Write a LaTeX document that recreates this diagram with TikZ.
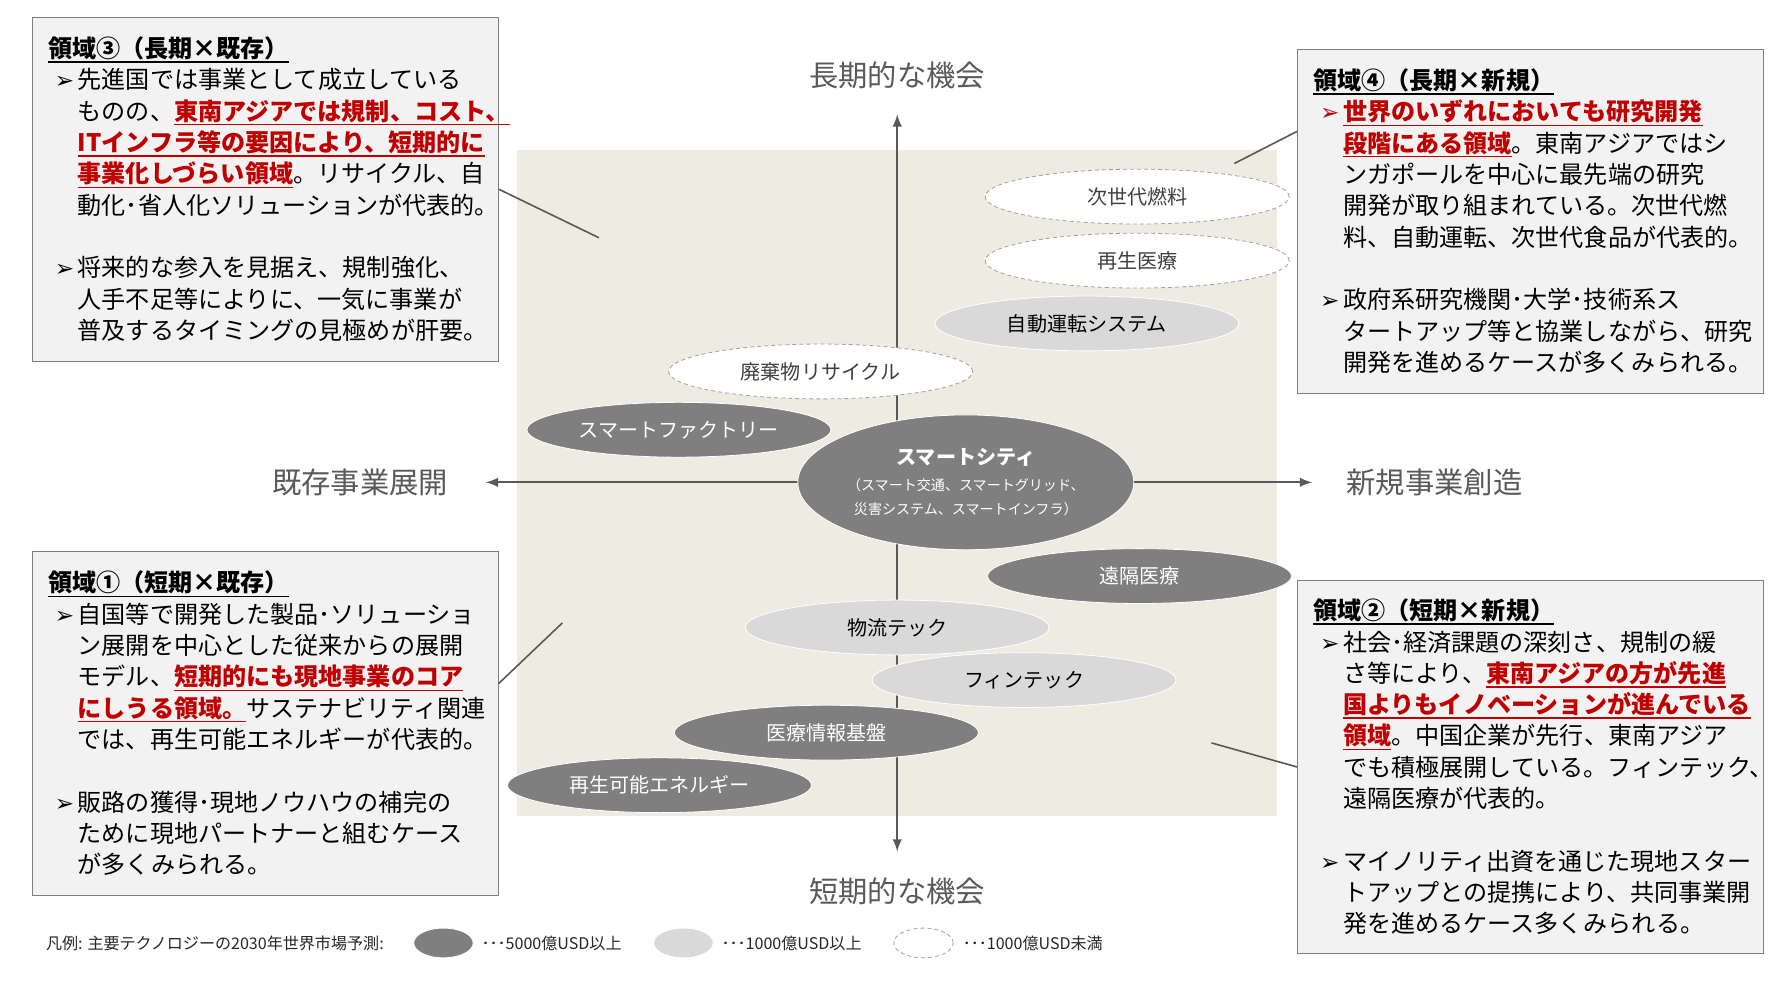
\documentclass[tikz,border=0pt]{standalone}
\usepackage{fontspec}
\setmainfont{Noto Sans CJK JP}
\newfontfamily\arrowfont{DejaVu Sans}
\usetikzlibrary{shapes.geometric}
\definecolor{beige}{HTML}{EEECE1}
\definecolor{boxgray}{HTML}{F2F2F2}
\definecolor{linegray}{HTML}{595959}
\definecolor{accent}{HTML}{C00000}
\definecolor{darktech}{HTML}{7F7F7F}
\definecolor{lighttech}{HTML}{D9D9D9}
\definecolor{dashgray}{HTML}{A0A0A0}
\newcommand\ulbox[1]{\setbox0=\hbox{#1}\rlap{\rule[-2.6pt]{\wd0}{0.75pt}}\box0}
\newcommand\redmark[1]{{\color{accent}\bfseries\ulbox{#1}}}
\newcommand\areatitle[1]{{\bfseries\ulbox{#1}}}
\newcommand\bul{\hspace*{0.12cm}\makebox[0.4cm][l]{\arrowfont\fontsize{11.5}{12}\selectfont ➢}}
\newcommand\contline{\hspace*{0.52cm}}

\begin{document}
\begin{tikzpicture}[x=0.02cm,y=-0.02cm,
    areabox/.style={draw=darktech,fill=boxgray,text width=7.6cm,inner xsep=0.28cm,
      minimum height=6.02cm,align=left,font=\fontsize{12}{15.6}\selectfont},
    tech/.style={ellipse,minimum width=5.32cm,minimum height=0.96cm,inner sep=0pt,
      font=\fontsize{10}{12}\selectfont},
    bigtech/.style={tech,fill=darktech,draw=white,text=white},
    midtech/.style={tech,fill=lighttech,draw=white,text=black},
    smalltech/.style={tech,fill=white,draw=dashgray,dash pattern=on 2pt off 1.5pt,text=black!75},
    axislabel/.style={text=linegray,font=\fontsize{14.6}{16}\selectfont},
    leader/.style={linegray,line width=0.8pt},
    legend/.style={anchor=west,inner sep=0pt,text=black!85,font=\fontsize{8}{10}\selectfont}]
  \useasboundingbox (0,0) rectangle (1567,870.6);
  \fill[beige] (452,131) rectangle (1117,714);

  % axes
  \coordinate (longterm) at (785,100);
  \coordinate (shortterm) at (785,745);
  \coordinate (existing) at (425,422);
  \coordinate (newbiz) at (1148,422);
  \draw[linegray,line width=1.1pt,latex-latex] (shortterm) -- (longterm);
  \draw[linegray,line width=1.1pt,latex-latex] (existing) -- (newbiz);
  \node[axislabel] (longlabel) at (785,66) {長期的な機会};
  \node[axislabel] (shortlabel) at (785,780) {短期的な機会};
  \node[axislabel] (existlabel) at (315,422) {既存事業展開};
  \node[axislabel] (newlabel) at (1255,422) {新規事業創造};

  \node[smalltech] (fuel) at (995,172) {次世代燃料};
  \node[smalltech] (regen) at (995,228) {再生医療};
  \node[midtech] (autodrive) at (951,283) {自動運転システム};
  \node[smalltech] (recycle) at (718,325) {廃棄物リサイクル};
  \node[bigtech] (factory) at (594,376) {スマートファクトリー};
  \node[bigtech,minimum width=5.3cm,minimum height=2.36cm,align=center] (city) at (845,422)
    {\fontsize{10}{12}\selectfont\bfseries スマートシティ\\[1pt]
     \fontsize{7}{9.5}\selectfont （スマート交通、スマートグリッド、\\
     \fontsize{7}{9.5}\selectfont 災害システム、スマートインフラ）};
  \node[bigtech] (telemed) at (997,504) {遠隔医療};
  \node[midtech] (logistics) at (785,549) {物流テック};
  \node[midtech] (fintech) at (896,595) {フィンテック};
  \node[bigtech] (medinfo) at (723,641) {医療情報基盤};
  \node[bigtech] (renew) at (577,687) {再生可能エネルギー};

  \node[areabox] (area3) at (232,165.5) {\areatitle{領域③（長期×既存）}\\
    \bul 先進国では事業として成立している\\
    \contline ものの、\redmark{東南アジアでは規制、コスト、}\\
    \contline \redmark{ITインフラ等の要因により、短期的に}\\
    \contline \redmark{事業化しづらい領域}。リサイクル、自\\
    \contline 動化･省人化ソリューションが代表的。\\ \mbox{}\\
    \bul 将来的な参入を見据え、規制強化、\\
    \contline 人手不足等によりに、一気に事業が\\
    \contline 普及するタイミングの見極めが肝要。};
  \node[areabox] (area4) at (1339,193.5) {\areatitle{領域④（長期×新規）}\\
    {\color{accent}\bul}\redmark{世界のいずれにおいても研究開発}\\
    \contline \redmark{段階にある領域}。東南アジアではシ\\
    \contline ンガポールを中心に最先端の研究\\
    \contline 開発が取り組まれている。次世代燃\\
    \contline 料、自動運転、次世代食品が代表的。\\ \mbox{}\\
    \bul 政府系研究機関･大学･技術系ス\\
    \contline タートアップ等と協業しながら、研究\\
    \contline 開発を進めるケースが多くみられる。};
  \node[areabox] (area1) at (232,633) {\areatitle{領域①（短期×既存）}\\
    \bul 自国等で開発した製品･ソリューショ\\
    \contline ン展開を中心とした従来からの展開\\
    \contline モデル、\redmark{短期的にも現地事業のコア}\\
    \contline \redmark{にしうる領域。}サステナビリティ関連\\
    \contline では、再生可能エネルギーが代表的。\\ \mbox{}\\
    \bul 販路の獲得･現地ノウハウの補完の\\
    \contline ために現地パートナーと組むケース\\
    \contline が多くみられる。};
  \node[areabox,minimum height=6.52cm] (area2) at (1339,671) {\areatitle{領域②（短期×新規）}\\
    \bul 社会･経済課題の深刻さ、規制の緩\\
    \contline さ等により、\redmark{東南アジアの方が先進}\\
    \contline \redmark{国よりもイノベーションが進んでいる}\\
    \contline \redmark{領域}。中国企業が先行、東南アジア\\
    \contline でも積極展開している。フィンテック、\\
    \contline 遠隔医療が代表的。\\ \mbox{}\\
    \bul マイノリティ出資を通じた現地スター\\
    \contline トアップとの提携により、共同事業開\\
    \contline 発を進めるケース多くみられる。};

  \coordinate (area3tip) at (524,208);
  \coordinate (area4tip) at (1080,143);
  \coordinate (area1tip) at (492,545);
  \coordinate (area2tip) at (1060,650);
  \draw[leader] (area3.east) -- (area3tip);
  \draw[leader] ([yshift=1.57cm]area4.west) -- (area4tip);
  \draw[leader] ([yshift=0.7cm]area1.east) -- (area1tip);
  \draw[leader] (area2.west) -- (area2tip);

  \node[legend] (legendtitle) at (40,825) {凡例: 主要テクノロジーの2030年世界市場予測:};
  \node[bigtech,minimum width=1.04cm,minimum height=0.52cm] (keybig) at (388,825) {};
  \node[legend] (keybigtext) at (421,825) {･･･5000億USD以上};
  \node[midtech,minimum width=1.04cm,minimum height=0.52cm] (keymid) at (598,825) {};
  \node[legend] (keymidtext) at (631,825) {･･･1000億USD以上};
  \node[smalltech,minimum width=1.04cm,minimum height=0.52cm] (keysmall) at (808,825) {};
  \node[legend] (keysmalltext) at (842,825) {･･･1000億USD未満};
\end{tikzpicture}
\end{document}
